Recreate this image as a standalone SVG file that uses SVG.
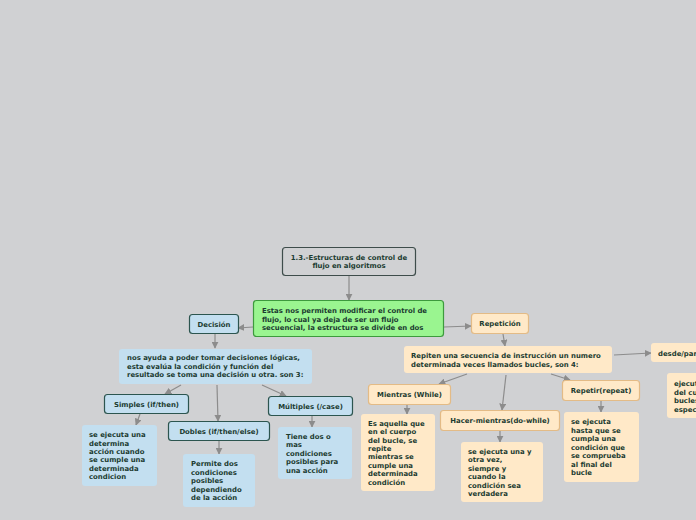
<svg xmlns="http://www.w3.org/2000/svg" width="696" height="520" viewBox="0 0 696 520">
<defs>
<marker id="ah" viewBox="0 0 10 10" refX="9" refY="5" markerWidth="7" markerHeight="7" markerUnits="userSpaceOnUse" orient="auto">
<path d="M0,0 L10,5 L0,10 z" fill="#8c8c8c"/>
</marker>
</defs>
<style>
text{font-family:"DejaVu Sans","Verdana",sans-serif;font-weight:bold;font-size:6.9px;fill:#1b3b30}
.c{text-anchor:middle}
.blue{fill:#c3dff0;stroke:#2c554f;stroke-width:1.2}
.bluep{fill:#c3dff0}
.org{fill:#ffe9c8;stroke:#e3bb86;stroke-width:1.2}
.orgp{fill:#ffe9c8}
.edge{stroke:#8c8c8c;stroke-width:1.2;fill:none;marker-end:url(#ah)}
</style>
<rect width="696" height="520" fill="#d0d1d3"/>
<g id="connectors">
<line class="edge" x1="349" y1="276" x2="349" y2="300"/>
<line class="edge" x1="253" y1="327" x2="238" y2="328"/>
<line class="edge" x1="444" y1="327" x2="471" y2="326"/>
<line class="edge" x1="215" y1="334" x2="215" y2="348"/>
<line class="edge" x1="181" y1="385" x2="165" y2="394"/>
<line class="edge" x1="217" y1="385" x2="218" y2="421"/>
<line class="edge" x1="262" y1="385" x2="286" y2="396"/>
<line class="edge" x1="140" y1="414" x2="136" y2="425"/>
<line class="edge" x1="219" y1="441" x2="219" y2="454"/>
<line class="edge" x1="312" y1="416" x2="312" y2="427"/>
<line class="edge" x1="503" y1="334" x2="505" y2="346"/>
<line class="edge" x1="614" y1="355" x2="651" y2="353"/>
<line class="edge" x1="467" y1="374" x2="439" y2="384"/>
<line class="edge" x1="506" y1="375" x2="502" y2="410"/>
<line class="edge" x1="551" y1="374" x2="570" y2="380"/>
<line class="edge" x1="407" y1="405" x2="407" y2="414"/>
<line class="edge" x1="500" y1="431" x2="500" y2="442"/>
<line class="edge" x1="601" y1="401" x2="601" y2="412"/>
</g>
<g id="n-root">
<rect x="282.5" y="247.5" width="133" height="28" rx="3" fill="#d0d1d3" stroke="#3e4d4b" stroke-width="1.2"/>
<text class="c" x="349" y="259.5">1.3.-Estructuras de control de</text>
<text class="c" x="349" y="268">flujo en algoritmos</text>
</g>
<g id="n-intro">
<rect x="253.5" y="300.5" width="190" height="36" rx="3" fill="#9af590" stroke="#3d9a3d" stroke-width="1.2"/>
<text x="262" y="313">Estas nos permiten modificar el control de</text>
<text x="262" y="321.5">flujo, lo cual ya deja de ser un flujo</text>
<text x="262" y="330">secuencial, la estructura se divide en dos</text>
</g>
<g id="n-decision">
<rect class="blue" x="189.5" y="314.5" width="49" height="19" rx="3"/>
<text class="c" x="214" y="326.5">Decisión</text>
</g>
<g id="n-decision-desc">
<rect class="bluep" x="119" y="349" width="193" height="35" rx="3"/>
<text x="127" y="360">nos ayuda a poder tomar decisiones lógicas,</text>
<text x="127" y="368.5">esta evalúa la condición y función del</text>
<text x="127" y="377">resultado se toma una decisión u otra. son 3:</text>
</g>
<g id="n-simples">
<rect class="blue" x="104.5" y="394.5" width="84" height="19" rx="3"/>
<text class="c" x="146.5" y="406.5">Simples (if/then)</text>
</g>
<g id="n-simples-desc">
<rect class="bluep" x="82" y="425" width="75" height="61" rx="3"/>
<text x="89" y="437">se ejecuta una</text>
<text x="89" y="445.5">determina</text>
<text x="89" y="454">acción cuando</text>
<text x="89" y="462.3">se cumple una</text>
<text x="89" y="470.6">determinada</text>
<text x="89" y="479">condicion</text>
</g>
<g id="n-dobles">
<rect class="blue" x="168.5" y="421.5" width="101" height="19" rx="3"/>
<text class="c" x="219" y="433.5">Dobles (if/then/else)</text>
</g>
<g id="n-dobles-desc">
<rect class="bluep" x="183" y="454" width="72" height="53" rx="3"/>
<text x="191" y="465.5">Permite dos</text>
<text x="191" y="474.5">condiciones</text>
<text x="191" y="483">posibles</text>
<text x="191" y="492">dependiendo</text>
<text x="191" y="500">de la acción</text>
</g>
<g id="n-multiples">
<rect class="blue" x="268.5" y="396.5" width="84" height="19" rx="3"/>
<text class="c" x="310.5" y="408.5">Múltiples (/case)</text>
</g>
<g id="n-multiples-desc">
<rect class="bluep" x="278" y="427" width="74" height="52" rx="3"/>
<text x="286" y="438.5">Tiene dos o</text>
<text x="286" y="447">mas</text>
<text x="286" y="455.5">condiciones</text>
<text x="286" y="464">posibles para</text>
<text x="286" y="472.5">una acción</text>
</g>
<g id="n-repeticion">
<rect class="org" x="471.5" y="313.5" width="57" height="20" rx="3"/>
<text class="c" x="500" y="326">Repetición</text>
</g>
<g id="n-repeticion-desc">
<rect class="orgp" x="404" y="346" width="208" height="27" rx="3"/>
<text x="411" y="357.5">Repiten una secuencia de instrucción un numero</text>
<text x="411" y="366.5">determinada veces llamados bucles, son 4:</text>
</g>
<g id="n-desde">
<rect class="orgp" x="651" y="343" width="60" height="19" rx="3"/>
<text x="658" y="355.5">desde/para</text>
</g>
<g id="n-desde-desc">
<rect class="orgp" x="667" y="373" width="60" height="45" rx="3"/>
<text x="674" y="386">ejecuta</text>
<text x="674" y="394.5">del cuerpo</text>
<text x="674" y="403">bucles</text>
<text x="674" y="411.5">especifico</text>
</g>
<g id="n-mientras">
<rect class="org" x="368.5" y="384.5" width="82" height="20" rx="3"/>
<text class="c" x="409.5" y="397">Mientras (While)</text>
</g>
<g id="n-mientras-desc">
<rect class="orgp" x="361" y="414" width="74" height="77" rx="3"/>
<text x="368" y="426">Es aquella que</text>
<text x="368" y="434">en el cuerpo</text>
<text x="368" y="442.5">del bucle, se</text>
<text x="368" y="450.5">repite</text>
<text x="368" y="459">mientras se</text>
<text x="368" y="467.5">cumple una</text>
<text x="368" y="476">determinada</text>
<text x="368" y="484.5">condición</text>
</g>
<g id="n-hacer">
<rect class="org" x="440.5" y="410.5" width="119" height="20" rx="3"/>
<text class="c" x="500" y="423">Hacer-mientras(do-while)</text>
</g>
<g id="n-hacer-desc">
<rect class="orgp" x="461" y="442" width="82" height="60" rx="3"/>
<text x="468" y="453.5">se ejecuta una y</text>
<text x="468" y="462">otra vez,</text>
<text x="468" y="470.5">siempre y</text>
<text x="468" y="479">cuando la</text>
<text x="468" y="487.7">condición sea</text>
<text x="468" y="496">verdadera</text>
</g>
<g id="n-repetir">
<rect class="org" x="562.5" y="380.5" width="77" height="20" rx="3"/>
<text class="c" x="601" y="393">Repetir(repeat)</text>
</g>
<g id="n-repetir-desc">
<rect class="orgp" x="564" y="412" width="75" height="70" rx="3"/>
<text x="571" y="424">se ejecuta</text>
<text x="571" y="432.5">hasta que se</text>
<text x="571" y="441">cumpla una</text>
<text x="571" y="449.7">condición que</text>
<text x="571" y="458">se comprueba</text>
<text x="571" y="466.5">al final del</text>
<text x="571" y="475">bucle</text>
</g>
</svg>
